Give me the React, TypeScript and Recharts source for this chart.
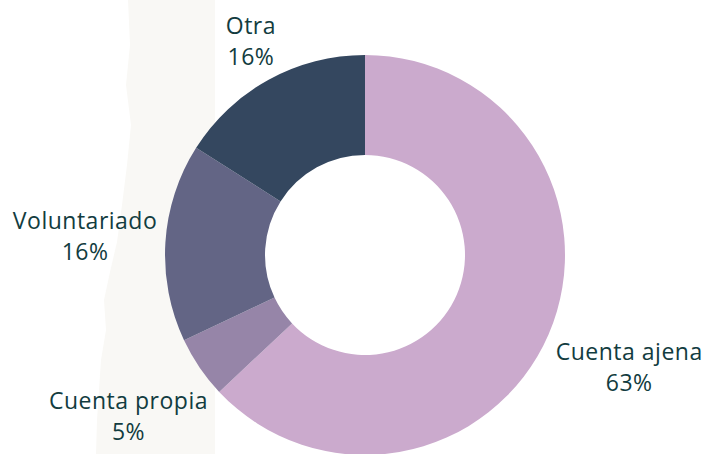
import React from 'react';
import { PieChart, Pie, Cell } from 'recharts';

const categories = ['Cuenta ajena', 'Cuenta propia', 'Voluntariado', 'Otra'];
const values = [63, 5, 16, 16];
const colors = ['#cbaacd', '#9685a8', '#636585', '#34475f'];

const data = categories.map((name, i) => ({ name, value: values[i] }));

const RAD = Math.PI / 180;
const TEXT_COLOR = '#123c40';
const FONT = "'Open Sans', 'DejaVu Sans', sans-serif";

const renderLabel = (props: any) => {
  const { cx, cy, midAngle, outerRadius, index } = props;
  const dx = Math.cos(-midAngle * RAD);
  const dy = Math.sin(-midAngle * RAD);
  const R = outerRadius + 15;
  const ax = cx + R * dx;
  const ay = cy + R * dy;
  const name = categories[index];
  const pct = `${values[index]}%`;
  const hw = Math.max(name.length, pct.length) * 6.2;
  const bx = ax + dx * hw * (dx > 0 ? 0.98 : 0.88);
  const by = ay + dy * (dy > 0 ? 78 : 25);
  return (
    <text
      key={`l-${index}`}
      x={bx}
      y={by}
      textAnchor="middle"
      fill={TEXT_COLOR}
      style={{ fontFamily: FONT, fontSize: 23, fontWeight: 500, letterSpacing: 0.5 }}
    >
      <tspan x={bx} y={by - 20} dominantBaseline="central">{name}</tspan>
      <tspan x={bx} y={by + 11} dominantBaseline="central">{pct}</tspan>
    </text>
  );
};

export default function App() {
  return (
    <div style={{ position: 'absolute', left: 0, top: 0, width: 706, height: 454, overflow: 'hidden', background: '#ffffff' }}>
      <svg width={706} height={454} style={{ position: 'absolute', left: 0, top: 0 }}>
        <polygon
          fill="#f9f8f5"
          points="128,0 215,0 215,454 96,454 97,420 99,390 101,360 106,330 104,300 110,272 117,242 122,205 127,165 131,125 126,85 130,45"
        />
      </svg>
      <div style={{ position: 'absolute', left: 0, top: 0 }}>
        <PieChart width={706} height={454}>
          <Pie
            data={data}
            dataKey="value"
            nameKey="name"
            cx={360}
            cy={250}
            innerRadius={100}
            outerRadius={200}
            startAngle={90}
            endAngle={-270}
            stroke="none"
            label={renderLabel}
            labelLine={false}
            isAnimationActive={false}
          >
            {data.map((d, i) => (
              <Cell key={d.name} fill={colors[i]} />
            ))}
          </Pie>
        </PieChart>
      </div>
    </div>
  );
}
